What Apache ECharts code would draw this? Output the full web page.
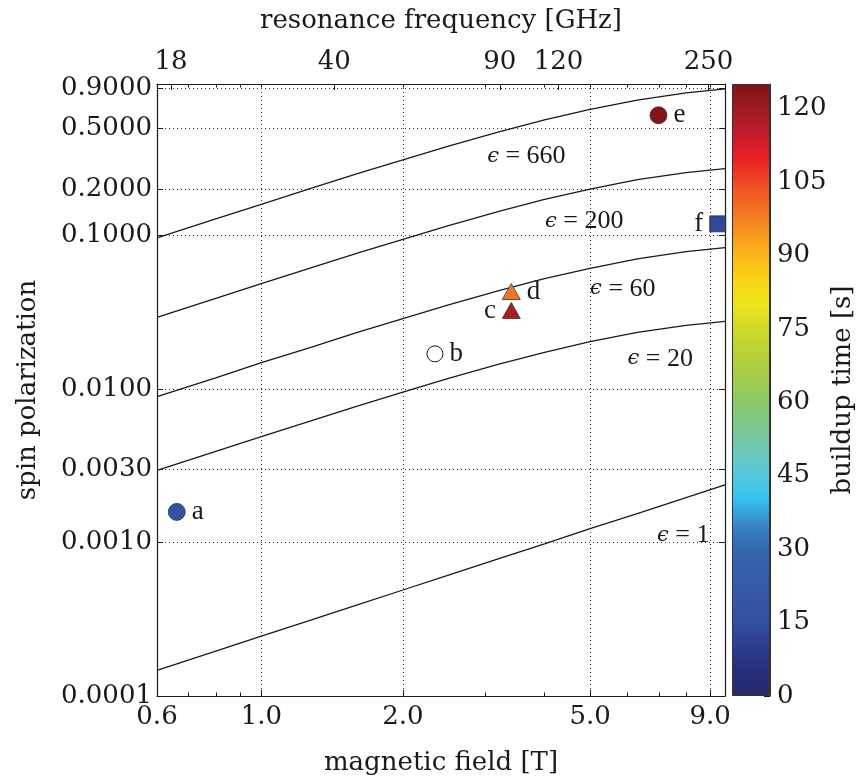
<!DOCTYPE html>
<html><head><meta charset="utf-8">
<script src="https://cdn.jsdelivr.net/npm/echarts@6/dist/echarts.min.js"></script>
<style>html,body{margin:0;padding:0;background:#fff}#c{width:857px;height:776px}</style>
</head><body><div id="c"></div><script>
// ---------------- data ----------------
const fieldT     = [0.6, 0.8, 1.0, 1.25, 1.6, 2.0, 2.5, 3.2, 4.0, 5.0, 6.3, 8.0, 9.68];
const polEps1    = [0.000147, 0.000196, 0.000245, 0.000306, 0.000392, 0.00049, 0.000613, 0.000784, 0.00098, 0.00123, 0.00154, 0.00196, 0.00237];
const polEps20   = [0.00295, 0.00392, 0.00489, 0.00608, 0.00771, 0.00952, 0.0117, 0.0145, 0.0173, 0.0203, 0.0233, 0.0259, 0.0275];
const polEps60   = [0.0089, 0.0118, 0.0148, 0.0183, 0.0233, 0.0287, 0.0352, 0.0436, 0.0522, 0.0608, 0.0701, 0.0782, 0.0831];
const polEps200  = [0.0292, 0.0388, 0.0484, 0.0602, 0.0764, 0.0942, 0.1155, 0.143, 0.171, 0.200, 0.230, 0.256, 0.272];
const polEps660  = [0.0962, 0.128, 0.159, 0.198, 0.252, 0.310, 0.381, 0.472, 0.564, 0.661, 0.758, 0.845, 0.898];
const epsValues  = [1, 20, 60, 200, 660];
const epsLabelField = [7.89, 7.05, 5.87, 4.86, 3.66];
const epsLabelPol   = [0.00111, 0.0157, 0.0448, 0.1228, 0.325];

const sampleNames   = ['a', 'b', 'c', 'd', 'e', 'f'];
const sampleField   = [0.661, 2.34, 3.40, 3.40, 6.99, 9.34];
const samplePol     = [0.00158, 0.0169, 0.0324, 0.0430, 0.604, 0.1187];
const sampleBuildup = [17, null, 118, 99, 124, 13];

const fieldTicks      = [0.6, 1.0, 2.0, 5.0, 9.0];
const fieldMinorTicks = [0.7, 0.8, 0.9, 3.0, 4.0, 6.0, 7.0, 8.0];
const freqTicks       = [18, 40, 90, 120, 250];
const polTicks        = [0.0001, 0.001, 0.003, 0.01, 0.1, 0.2, 0.5, 0.9];
const fieldRange      = [0.6, 9.68];
const polRange        = [0.0001, 0.966];
const buildupRange    = [0, 125];
const buildupStep     = 15;
const GHZ_PER_T       = 28;

// ---------------- style ----------------
const cmap = ['#25296b','#272f7a','#2c3c8e','#3350a0','#3457a5','#355ea9','#3567ad','#3a85c5',
  '#30c3ef','#56c7e0','#6ec7b6','#7cc78e','#8cc866','#a2cc4a','#b8d236','#cfd92a','#eee41c',
  '#fad513','#fbb619','#f6921e','#f26e22','#ee4824','#ea1f26','#c01e28','#9d1a22','#7d1416'];
const SERIF = 'DejaVu Serif';
const MATH = 'Liberation Serif';
const INK = '#1a1a1a';
const L = Math.log10;

const chart = echarts.init(document.getElementById('c'), null, {renderer: 'canvas'});

const baseX = {
  type: 'value', gridIndex: 0, min: L(fieldRange[0]), max: L(fieldRange[1]),
  axisLine: {show: false}, axisLabel: {show: false}, splitLine: {show: false},
  axisTick: {show: false}
};
const tickStyle = {lineStyle: {color: INK, width: 1}};
const gridLine = {show: true, lineStyle: {color: '#333', width: 1, type: [1, 3]}};

const curves = [polEps1, polEps20, polEps60, polEps200, polEps660];

const series = [];
curves.forEach((pol, k) => {
  series.push({
    type: 'line', xAxisIndex: 0, yAxisIndex: 0, silent: true,
    data: fieldT.map((b, i) => [L(b), L(pol[i])]),
    showSymbol: false, smooth: false,
    lineStyle: {color: INK, width: 1.3}, z: 2, name: 'eps' + epsValues[k]
  });
});
series.push({
  type: 'scatter', xAxisIndex: 0, yAxisIndex: 0, silent: true, symbolSize: 0,
  itemStyle: {opacity: 1},
  data: epsValues.map((e, i) => ({name: String(e), value: [L(epsLabelField[i]), L(epsLabelPol[i])]})),
  label: {
    show: true, position: 'inside', formatter: p => '{e|ϵ}{t| = ' + p.name + '}',
    rich: {
      e: {fontFamily: SERIF, fontStyle: 'italic', fontSize: 21, color: INK},
      t: {fontFamily: MATH, fontSize: 26, color: INK}
    }
  }, z: 3
});

function sampleItem(i) {
  return {name: sampleNames[i], value: [L(sampleField[i]), L(samplePol[i]), sampleBuildup[i]]};
}
const sampleLabel = (pos) => ({show: true, position: pos, distance: 6, formatter: '{b}',
  fontFamily: MATH, fontSize: 27, color: INK});
const mk = {borderColor: '#333', borderWidth: 0.8, opacity: 1};
const colouredIdx = [];
const addSample = (names, symbol, size, labelPos) => {
  const items = names.map(n => sampleItem(sampleNames.indexOf(n)));
  colouredIdx.push(series.length);
  series.push({type: 'scatter', xAxisIndex: 0, yAxisIndex: 0, symbol, symbolSize: size,
    data: items, itemStyle: mk, label: sampleLabel(labelPos), z: 5});
};
addSample(['a', 'e'], 'circle', 17, 'right');
addSample(['d'], 'triangle', [18, 16], 'right');
addSample(['c'], 'triangle', [18, 16], 'left');
addSample(['f'], 'rect', 16, 'left');
series.push({type: 'scatter', xAxisIndex: 0, yAxisIndex: 0, symbol: 'circle', symbolSize: 16,
  data: [sampleItem(1)], itemStyle: {color: '#fff', borderColor: INK, borderWidth: 1, opacity: 1},
  label: sampleLabel('right'), z: 5});

// colour bar
series.push({
  type: 'bar', xAxisIndex: 4, yAxisIndex: 2, silent: true, barWidth: '100%',
  data: [buildupRange[1]],
  itemStyle: {
    borderColor: '#333', borderWidth: 1,
    color: new echarts.graphic.LinearGradient(0, 1, 0, 0,
      cmap.map((c, i) => ({offset: i / (cmap.length - 1), color: c})))
  }, z: 1
});

const option = {
  animation: false,
  backgroundColor: '#fff',
  grid: [
    {left: 157, top: 84, right: 132, bottom: 80, show: false, containLabel: false, outerBoundsMode: 'none'},
    {left: 732, top: 84, width: 38, height: 612, show: false, containLabel: false, outerBoundsMode: 'none'}
  ],
  visualMap: {
    type: 'continuous', show: false, min: buildupRange[0], max: buildupRange[1],
    dimension: 2, seriesIndex: colouredIdx, inRange: {color: cmap}
  },
  xAxis: [
    // 0 bottom: magnetic field
    Object.assign({}, baseX, {
      position: 'bottom',
      axisLine: {show: true, onZero: false, lineStyle: {color: INK, width: 1.2}},
      axisTick: Object.assign({show: true, inside: true, length: 6,
        customValues: fieldTicks.map(L)}, tickStyle),
      axisLabel: {show: true, customValues: fieldTicks.map(L), margin: 8,
        formatter: v => Math.pow(10, v).toFixed(1),
        fontFamily: SERIF, fontSize: 26, color: INK},
      splitLine: gridLine,
      name: 'magnetic field [T]', nameLocation: 'middle', nameGap: 54,
      nameTextStyle: {fontFamily: SERIF, fontSize: 26, color: INK}
    }),
    // 1 bottom minor ticks
    Object.assign({}, baseX, {position: 'bottom',
      axisTick: Object.assign({show: true, inside: true, length: 3.5,
        customValues: fieldMinorTicks.map(L)}, tickStyle)}),
    // 2 top mirrored field ticks
    Object.assign({}, baseX, {position: 'top',
      axisLine: {show: true, onZero: false, lineStyle: {color: INK, width: 1.2}},
      axisTick: Object.assign({show: true, inside: true, length: 3.5,
        customValues: fieldTicks.concat(fieldMinorTicks).map(L)}, tickStyle)}),
    // 3 top: resonance frequency
    Object.assign({}, baseX, {position: 'top',
      axisTick: Object.assign({show: true, inside: true, length: 6,
        customValues: freqTicks.map(f => L(f / GHZ_PER_T))}, tickStyle),
      axisLabel: {show: true, customValues: freqTicks.map(f => L(f / GHZ_PER_T)), margin: 9,
        formatter: v => String(Math.round(GHZ_PER_T * Math.pow(10, v))),
        fontFamily: SERIF, fontSize: 26, color: INK},
      name: 'resonance frequency [GHz]', nameLocation: 'middle', nameGap: 50,
      nameTextStyle: {fontFamily: SERIF, fontSize: 26, color: INK}
    }),
    // 4 colour bar category
    {type: 'category', gridIndex: 1, data: [''], show: false}
  ],
  yAxis: [
    {
      type: 'value', gridIndex: 0, position: 'left', min: L(polRange[0]), max: L(polRange[1]),
      axisLine: {show: true, onZero: false, lineStyle: {color: INK, width: 1.2}},
      axisTick: Object.assign({show: true, inside: true, length: 6,
        customValues: polTicks.map(L)}, tickStyle),
      axisLabel: {show: true, customValues: polTicks.map(L), margin: 5,
        formatter: v => Math.pow(10, v).toFixed(4),
        fontFamily: SERIF, fontSize: 26, color: INK},
      splitLine: gridLine,
      name: 'spin polarization', nameLocation: 'middle', nameGap: 116,
      nameTextStyle: {fontFamily: SERIF, fontSize: 26, color: INK}
    },
    {
      type: 'value', gridIndex: 0, position: 'right', min: L(polRange[0]), max: L(polRange[1]),
      axisLine: {show: true, onZero: false, lineStyle: {color: INK, width: 1.2}},
      axisTick: Object.assign({show: true, inside: true, length: 6,
        customValues: polTicks.map(L)}, tickStyle),
      axisLabel: {show: false}, splitLine: {show: false}
    },
    {
      type: 'value', gridIndex: 1, position: 'right', min: buildupRange[0], max: buildupRange[1],
      interval: buildupStep,
      axisLine: {show: true, lineStyle: {color: '#333', width: 1}},
      axisTick: Object.assign({show: true, inside: true, length: 6}, tickStyle),
      axisLabel: {show: true, margin: 7, showMaxLabel: false, fontFamily: SERIF, fontSize: 26, color: INK,
        formatter: v => (v % buildupStep === 0 ? String(v) : '')},
      splitLine: {show: false},
      name: 'buildup time [s]', nameLocation: 'middle', nameGap: 51,
      nameTextStyle: {fontFamily: SERIF, fontSize: 26, color: INK}
    }
  ],
  series
};
chart.setOption(option);
</script></body></html>
